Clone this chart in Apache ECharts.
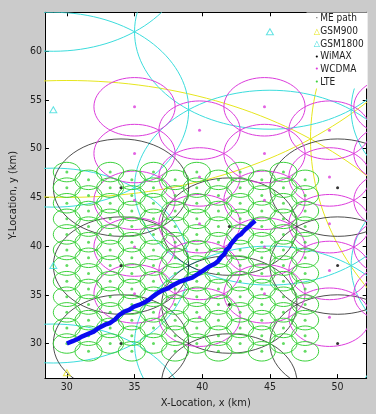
<!DOCTYPE html>
<html><head><meta charset="utf-8">
<style>html,body{margin:0;padding:0;background:#cbcbcb;}#c{width:376px;height:414px;}</style>
<script src="https://cdn.jsdelivr.net/npm/echarts@6/dist/echarts.min.js"></script>
</head><body><div id="c"></div>
<script>
// ---- tick labels ----
const xTicks = [30, 35, 40, 45, 50];
const yTicks = [30, 35, 40, 45, 50, 55, 60];

// ---- GSM900 cells (km) ----
const gsm900X = [30, 30, 78];
const gsm900Y = [27, 75, 51];
const gsm900R = 30;
const gsm900SiteX = [30];
const gsm900SiteY = [27];

// ---- GSM1800 cells ----
const gsm1800X = [29, 29, 29, 29, 45, 45, 45, 61, 61, 61, 61];
const gsm1800Y = [70, 54, 38, 22, 62, 46, 30, 70, 54, 38, 22];
const gsm1800R = 10;
const gsm1800SiteX = [29, 29, 45];
const gsm1800SiteY = [54, 38, 62];

// ---- WiMAX cells ----
const wimaxX = [34, 34, 34, 42, 42, 42, 50, 50, 50];
const wimaxY = [46, 38, 30, 42, 34, 26, 46, 38, 30];
const wimaxR = 5;

// ---- WCDMA cells ----
const wcdmaColsA = [35, 44.6, 54.2];
const wcdmaRowsA = [54.3, 49.5, 44.7, 39.9, 35.1];
const wcdmaColsB = [39.8, 49.4];
const wcdmaRowsB = [51.9, 47.1, 42.3, 37.5, 32.7];
const wcdmaR = 3;

// ---- LTE cells ----
const lteColsA = [30, 33.2, 36.4, 39.6, 42.8, 46.0];
const lteRowsA = [47.6, 46.0, 44.4, 42.8, 41.2, 39.6, 38.0, 36.4, 34.8, 33.2, 31.6, 30.0];
const lteColsB = [31.6, 34.8, 38.0, 41.2, 44.4, 47.6];
const lteRowsB = [46.8, 45.2, 43.6, 42.0, 40.4, 38.8, 37.2, 35.6, 34.0, 32.4, 30.8, 29.2];
const lteR = 1.0;

// ---- ME path ----
const pathX = [30.0, 30.14, 30.43, 30.79, 31.15, 31.62, 31.98, 32.34, 32.82, 33.17, 33.53, 33.89, 34.25, 34.60, 34.96, 35.32, 35.68, 36.04, 36.40, 36.75, 37.11, 37.47, 37.83, 38.30, 38.78, 39.26, 39.73, 40.09, 40.45, 40.93, 41.17, 41.41, 41.65, 41.77, 42.0, 42.12, 42.36, 42.6, 42.84, 43.0, 43.2, 43.43, 43.67, 43.91];
const pathY = [30.0, 30.05, 30.24, 30.47, 30.74, 31.01, 31.22, 31.59, 31.93, 32.10, 32.44, 32.95, 33.28, 33.45, 33.79, 33.96, 34.19, 34.47, 34.87, 35.21, 35.48, 35.65, 35.99, 36.32, 36.56, 36.76, 37.17, 37.51, 37.85, 38.18, 38.45, 38.9, 39.2, 39.6, 39.9, 40.21, 40.6, 41.0, 41.2, 41.45, 41.73, 42.0, 42.31, 42.6];

// ---- build data from the arrays ----
function zipCells(xs, ys, r) { return xs.map((x, i) => [x, ys[i], r]); }
function gridCells(cols, rows, r) { const out = []; cols.forEach(x => rows.forEach(y => out.push([x, y, r]))); return out; }
const gsm900Cells = zipCells(gsm900X, gsm900Y, gsm900R);
const gsm1800Cells = zipCells(gsm1800X, gsm1800Y, gsm1800R);
const wimaxCells = zipCells(wimaxX, wimaxY, wimaxR);
const wcdmaCells = gridCells(wcdmaColsA, wcdmaRowsA, wcdmaR).concat(gridCells(wcdmaColsB, wcdmaRowsB, wcdmaR));
const lteCells = gridCells(lteColsA, lteRowsA, lteR).concat(gridCells(lteColsB, lteRowsB, lteR));
const pathData = pathX.map((x, i) => [x, pathY[i]]);

const FONT = "'Liberation Sans Narrow','DejaVu Sans Condensed','Liberation Sans',sans-serif";
const C = { g900: '#e6e61e', g1800: '#3cdcdc', wimax: '#222222', wcdma: '#dc3cdc', lte: '#3cd23c', path: '#0a0af0' };

function cellSeries(name, data, color, z, lw) {
  return {
    type: 'custom', name, z, clip: true, silent: true, data, encode: { x: 0, y: 1 },
    renderItem: function (params, api) {
      const c = api.coord([api.value(0), api.value(1)]);
      const s = api.size([api.value(2), api.value(2)]);
      return { type: 'ellipse', shape: { cx: c[0], cy: c[1], rx: s[0], ry: s[1] },
        style: { fill: 'none', stroke: color, lineWidth: lw || 1 } };
    }
  };
}
function dotSeries(name, data, color, z) {
  return { type: 'scatter', name, z, silent: true, data: data.map(d => [d[0], d[1]]),
    symbol: 'circle', symbolSize: 3, itemStyle: { color: color } };
}
function triSeries(name, xs, ys, color, z) {
  return { type: 'scatter', name, z, silent: true, data: xs.map((x, i) => [x, ys[i]]),
    symbol: 'triangle', symbolSize: [7, 6], itemStyle: { color: 'rgba(0,0,0,0)', borderColor: color, borderWidth: 1 } };
}

const axisCommon = {
  type: 'value', splitLine: { show: false },
  axisLine: { show: true, onZero: false, lineStyle: { color: '#000', width: 1 } }
};
const XMIN = 28.38, XMAX = 52.15, YMIN = 26.45, YMAX = 64.0;

const legendKeys = { 'ME path': 'me', 'GSM900': 'g9', 'GSM1800': 'g18', 'WiMAX': 'wi', 'WCDMA': 'wc', 'LTE': 'lt' };
const legendGlyph = { me: '·', g9: '△', g18: '△', wi: '•', wc: '•', lt: '•' };
const glyphStyle = (color, size) => ({ color, fontSize: size, fontFamily: 'DejaVu Sans', width: 7, align: 'center' });

const option = {
  backgroundColor: '#cbcbcb',
  animation: false,
  grid: { left: 34.7, top: 12.3, right: 9.3, bottom: 31.7, show: true, backgroundColor: '#ffffff', borderWidth: 0 },
  xAxis: [
    Object.assign({}, axisCommon, {
      min: XMIN, max: XMAX, position: 'bottom',
      axisTick: { show: true, inside: true, length: 4, customValues: xTicks, lineStyle: { color: '#000' } },
      axisLabel: { customValues: xTicks, color: '#222', fontSize: 10.5, fontFamily: FONT, margin: 4 },
      name: 'X-Location, x (km)', nameLocation: 'middle', nameGap: 16,
      nameTextStyle: { color: '#222', fontSize: 11, fontFamily: FONT }
    }),
    Object.assign({}, axisCommon, {
      min: XMIN, max: XMAX, position: 'top',
      axisTick: { show: true, inside: true, length: 4, customValues: xTicks, lineStyle: { color: '#000' } },
      axisLabel: { show: false }
    })
  ],
  yAxis: [
    Object.assign({}, axisCommon, {
      min: YMIN, max: YMAX, position: 'left',
      axisTick: { show: true, inside: true, length: 4, customValues: yTicks, lineStyle: { color: '#000' } },
      axisLabel: { customValues: yTicks, color: '#222', fontSize: 10.5, fontFamily: FONT, margin: 3 },
      name: 'Y-Location, y (km)', nameLocation: 'middle', nameGap: 18, nameRotate: 90,
      nameTextStyle: { color: '#222', fontSize: 11, fontFamily: FONT }
    }),
    Object.assign({}, axisCommon, {
      min: YMIN, max: YMAX, position: 'right',
      axisTick: { show: true, inside: true, length: 4, customValues: yTicks, lineStyle: { color: '#000' } },
      axisLabel: { show: false }
    })
  ],
  legend: {
    orient: 'vertical', left: 306.5, top: 12.5,
    data: ['ME path', 'GSM900', 'GSM1800', 'WiMAX', 'WCDMA', 'LTE'],
    backgroundColor: '#ffffff', borderWidth: 0, padding: [0, 4, 0, 1.8],
    itemGap: 0.2, itemWidth: 0, itemHeight: 0, icon: 'circle',
    itemStyle: { opacity: 0 }, selectedMode: false,
    formatter: function (name) { const k = legendKeys[name]; return '{' + k + '|' + legendGlyph[k] + '}' + name; },
    textStyle: {
      color: '#222', fontSize: 10, fontFamily: FONT, lineHeight: 12.5,
      rich: {
        me: glyphStyle('#666', 10), g9: glyphStyle(C.g900, 8), g18: glyphStyle(C.g1800, 8),
        wi: glyphStyle('#000', 7), wc: glyphStyle(C.wcdma, 7), lt: glyphStyle(C.lte, 7)
      }
    }
  },
  series: [
    cellSeries('GSM900', gsm900Cells, C.g900, 1),
    cellSeries('GSM1800', gsm1800Cells, C.g1800, 2),
    cellSeries('WiMAX', wimaxCells, C.wimax, 3, 0.8),
    cellSeries('WCDMA', wcdmaCells, C.wcdma, 4),
    cellSeries('LTE', lteCells, C.lte, 5),
    triSeries('GSM900', gsm900SiteX, gsm900SiteY, C.g900, 6),
    triSeries('GSM1800', gsm1800SiteX, gsm1800SiteY, C.g1800, 6),
    dotSeries('WiMAX', wimaxCells, '#000', 7),
    dotSeries('WCDMA', wcdmaCells, C.wcdma, 7),
    dotSeries('LTE', lteCells, C.lte, 7),
    { type: 'line', name: 'ME path', z: 10, silent: true, data: pathData, showSymbol: false,
      lineStyle: { color: C.path, width: 4.5, join: 'round' }, itemStyle: { color: C.path } }
  ]
};
const chart = echarts.init(document.getElementById('c'), null, { renderer: 'canvas' });
chart.setOption(option);
</script></body></html>
